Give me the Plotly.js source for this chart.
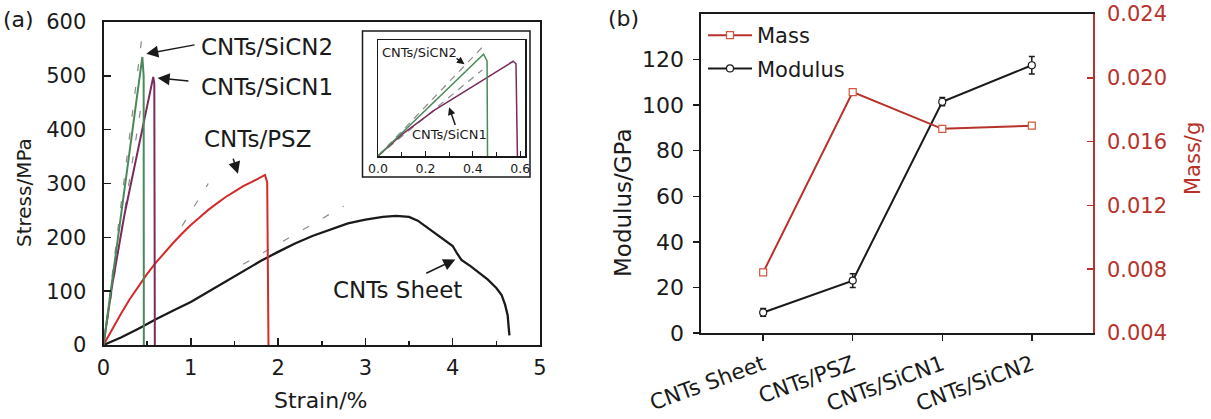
<!DOCTYPE html>
<html><head><meta charset="utf-8">
<script src="https://cdn.plot.ly/plotly-3.0.1.min.js"></script>
<style>html,body{margin:0;padding:0;background:#fff;}#chart{width:1211px;height:419px;}</style>
</head><body><div id="chart"></div>
<script>
// ---------- Panel (a): stress-strain curves ----------
var sheetStrain = [0,0.2,0.4,0.6,0.8,1.0,1.2,1.4,1.6,1.8,2.0,2.2,2.4,2.6,2.8,3.0,3.2,3.35,3.5,3.6,3.7,3.8,3.9,4.0,4.05,4.1,4.2,4.3,4.4,4.5,4.56,4.6,4.63,4.64,4.65];
var sheetStress = [0,14,30,48,64,80,99,118,138,156,173,189,203,215,226,233,238,240,238,231,219,207,196,184,170,158,147,135,122,106,93,75,55,35,18];
var pszStrain = [0,0.1,0.2,0.3,0.4,0.5,0.6,0.7,0.8,0.9,1.0,1.1,1.2,1.3,1.4,1.5,1.6,1.7,1.8,1.85,1.875,1.89];
var pszStress = [0,30,58,85,109,132,153,172,190,207,223,237,251,263,275,285,295,303,311,316,302,0];
var sicn2Strain = [0,0.1,0.2,0.3,0.4,0.445,0.46,0.462];
var sicn2Stress = [0,120,240,360,482,535,500,0];
var sicn1Strain = [0,0.1,0.24,0.4,0.57,0.582,0.588];
var sicn1Stress = [0,112,242,367,498,485,0];
// tangent (modulus) guide lines, end points
var tanSheetX = [1.6,2.75], tanSheetY = [150,258];
var tanPszX = [0.9,1.2], tanPszY = [221,300];
var tanSicn2X = [0,0.45], tanSicn2Y = [0,585];
var tanSicn1X = [0,0.44], tanSicn1Y = [0,453];

// ---------- Panel (b): modulus and mass ----------
var samples = ['CNTs Sheet','CNTs/PSZ','CNTs/SiCN1','CNTs/SiCN2'];
var modulus = [9, 23, 101.5, 117.5];
var modulusErr = [1.7, 3, 1.8, 3.8];
var mass = [0.0078, 0.0191, 0.0168, 0.0170];

var W = 1211, H = 419;
function px(x){return x/W;}
function py(y){return (H-y)/H;}

var cGreen = '#4a8a58', cPurple = '#7a2a5c', cRed = '#d42a2a', cBlack = '#1a1a1a', cGray = '#8a8a8a';
var cMass = '#b8322a';

function dashTrace(x,y,xa,ya,dash){
  return {x:x,y:y,xaxis:xa,yaxis:ya,mode:'lines',showlegend:false,hoverinfo:'skip',
    line:{color:cGray,width:1.2,dash:dash}};
}
function curve(x,y,xa,ya,color,w){
  return {x:x,y:y,xaxis:xa,yaxis:ya,mode:'lines',showlegend:false,line:{color:color,width:w}};
}

var traces = [
  dashTrace(tanSheetX,tanSheetY,'x','y','7px,16px'),
  dashTrace(tanPszX,tanPszY,'x','y','7px,16px'),
  dashTrace(tanSicn2X,tanSicn2Y,'x','y','7px,16px'),
  dashTrace(tanSicn1X,tanSicn1Y,'x','y','7px,16px'),
  curve(sheetStrain,sheetStress,'x','y',cBlack,2.3),
  curve(pszStrain,pszStress,'x','y',cRed,2),
  curve(sicn1Strain,sicn1Stress,'x','y',cPurple,2),
  curve(sicn2Strain,sicn2Stress,'x','y',cGreen,2),
  // inset
  dashTrace(tanSicn2X,tanSicn2Y,'x2','y2','7px,6px'),
  dashTrace(tanSicn1X,tanSicn1Y,'x2','y2','7px,6px'),
  curve(sicn1Strain,sicn1Stress,'x2','y2',cPurple,1.5),
  curve(sicn2Strain,sicn2Stress,'x2','y2',cGreen,1.5),
  // panel b
  {x:samples,y:mass,xaxis:'x3',yaxis:'y4',name:'Mass',mode:'lines+markers',legendgroup:'m',
   line:{color:cMass,width:2},marker:{symbol:'square',size:7,color:'white',line:{color:'#d0583c',width:1.2}}},
  {x:samples,y:modulus,xaxis:'x3',yaxis:'y3',name:'Modulus',mode:'lines+markers',legendgroup:'g',
   error_y:{type:'data',array:modulusErr,visible:true,color:cBlack,thickness:1.5,width:3},
   line:{color:cBlack,width:2},marker:{symbol:'circle',size:7,color:'white',line:{color:cBlack,width:1.2}}}
];

var FONT = 'DejaVu Sans, Arial, sans-serif';
var axLine = {showline:true,linecolor:cBlack,linewidth:2,showgrid:false,zeroline:false};

function ann(text,x,y,size,opts){
  var a = {text:text,x:x,y:y,xref:'paper',yref:'paper',showarrow:false,xanchor:'center',yanchor:'middle',
    font:{family:FONT,size:size,color:cBlack}};
  for (var k in (opts||{})) a[k]=opts[k];
  return a;
}
function arrow(hx,hy,tx,ty,xr,yr,sz){
  return {text:'',x:hx,y:hy,ax:tx,ay:ty,xref:xr,yref:yr,axref:xr,ayref:yr,showarrow:true,
    arrowhead:2,arrowsize:sz||1.6,arrowwidth:1.5,arrowcolor:cBlack,standoff:0,startstandoff:0};
}

var layout = {
  width:W,height:H,margin:{l:0,r:0,t:0,b:0},paper_bgcolor:'white',plot_bgcolor:'white',
  font:{family:FONT,size:21,color:cBlack},
  showlegend:true,
  legend:{x:px(703),y:py(15),xanchor:'left',yanchor:'top',bgcolor:'rgba(0,0,0,0)',itemwidth:44,
    font:{family:FONT,size:21,color:cBlack},tracegroupgap:3,traceorder:'grouped'},
  xaxis:Object.assign({},axLine,{domain:[px(103.5),px(540)],range:[0,5],dtick:1,tick0:0,
    ticks:'inside',ticklen:7,tickwidth:1.5,tickcolor:cBlack,mirror:true,anchor:'y',
    minor:{dtick:0.5,ticks:'inside',ticklen:4,tickwidth:1.5,tickcolor:cBlack},
    ticklabelstandoff:3,tickfont:{size:21}}),
  yaxis:Object.assign({},axLine,{domain:[py(345),py(22)],range:[0,600],dtick:100,
    ticks:'inside',ticklen:7,tickwidth:1.5,tickcolor:cBlack,mirror:true,anchor:'x',
    ticklabelstandoff:11,tickfont:{size:21}}),
  xaxis2:Object.assign({},axLine,{domain:[px(378),px(525)],range:[0,0.62],dtick:0.2,tick0:0,
    tickformat:'.1f',ticks:'inside',ticklen:5,tickwidth:1.2,tickcolor:cBlack,linewidth:1.5,mirror:true,anchor:'y2',
    minor:{dtick:0.1,ticks:'inside',ticklen:4,tickwidth:1.2,tickcolor:cBlack},
    ticklabelstandoff:0,tickfont:{size:12.5}}),
  yaxis2:Object.assign({},axLine,{domain:[py(156),py(40)],range:[0,610],showticklabels:false,ticks:'',
    linewidth:1.5,mirror:true,anchor:'x2'}),
  xaxis3:Object.assign({},axLine,{domain:[px(700.5),px(1092.7)],range:[-0.7,3.68],type:'category',
    ticks:'outside',ticklen:6,tickwidth:1.5,tickcolor:cBlack,mirror:true,anchor:'y3',tickangle:-20,
    ticklabelstandoff:3,tickfont:{size:21.5}}),
  yaxis3:Object.assign({},axLine,{domain:[py(333),py(14)],range:[0,140],tickvals:[0,20,40,60,80,100,120],
    ticks:'outside',ticklen:6,tickwidth:1.5,tickcolor:cBlack,anchor:'x3',
    ticklabelstandoff:4,tickfont:{size:22}}),
  yaxis4:{overlaying:'y3',side:'right',anchor:'x3',range:[0.004,0.024],dtick:0.004,tick0:0.004,tickformat:'.3f',
    showline:true,linecolor:cMass,linewidth:2,showgrid:false,zeroline:false,
    ticks:'inside',ticklen:6,tickwidth:1.5,tickcolor:cMass,ticklabelstandoff:8,
    tickfont:{size:21,color:cMass}},
  shapes:[
    {type:'rect',xref:'paper',yref:'paper',x0:px(362.5),x1:px(530),y0:py(177),y1:py(31),
     line:{color:cBlack,width:1.5},fillcolor:'rgba(0,0,0,0)'}
  ],
  annotations:[
    ann('(a)',px(18),py(19),22),
    ann('(b)',px(623),py(18),22),
    ann('Stress/MPa',px(24),py(193),20,{textangle:-90}),
    ann('Strain/%',px(321),py(400),22),
    ann('Modulus/GPa',px(623),py(203),23,{textangle:-90}),
    ann('Mass/g',px(1193),py(159),21,{textangle:-90,font:{family:FONT,size:21,color:cMass}}),
    ann('CNTs/SiCN2',px(267),py(47),23),
    ann('CNTs/SiCN1',px(267),py(87),23),
    ann('CNTs/PSZ',px(257),py(139),23),
    ann('CNTs Sheet',px(397),py(290),23),
    ann('CNTs/SiCN2',px(419),py(52.5),13),
    ann('CNTs/SiCN1',px(449),py(134),13),
    arrow(0.49,541,1.06,558,'x','y'),
    arrow(0.62,496,0.99,490,'x','y'),
    arrow(1.54,318,1.48,349,'x','y'),
    arrow(4.03,159,3.68,132,'x','y'),
    arrow(0.365,483,0.325,519,'x2','y2',1),
    arrow(0.30,256,0.328,155,'x2','y2',1)
  ]
};

Plotly.newPlot('chart',traces,layout,{displayModeBar:false,staticPlot:true});
</script></body></html>
